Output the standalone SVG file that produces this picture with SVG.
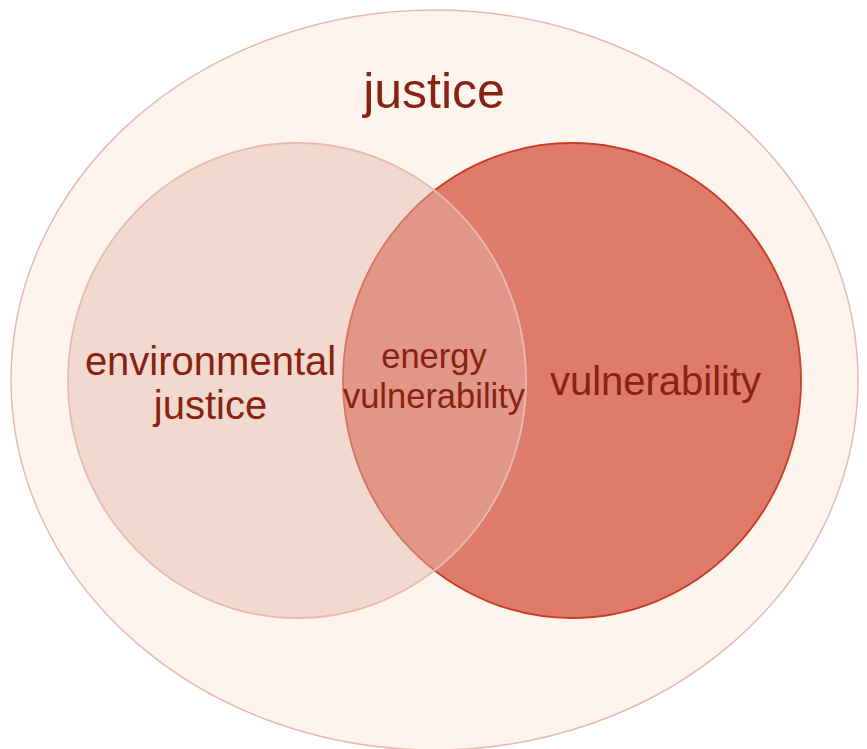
<svg xmlns="http://www.w3.org/2000/svg" width="867" height="749" viewBox="0 0 867 749">
<style>
text{font-family:"Liberation Sans",Arial,sans-serif;fill:#8A2211;text-anchor:middle}
</style>
<rect width="867" height="749" fill="#ffffff"/>
<g id="justice">
<ellipse cx="434.5" cy="380" rx="423.5" ry="370" fill="#FDF4EE" stroke="#E8B9AF" stroke-width="1.5"/>
<text x="434" y="108" font-size="50">justice</text>
</g>
<g id="vulnerability">
<ellipse cx="572" cy="380.5" rx="229" ry="237.5" fill="#DE7B6A" stroke="#C93D26" stroke-width="1.8"/>
</g>
<g id="environmental-justice">
<ellipse cx="297" cy="380.5" rx="229" ry="237.5" fill="#E4B8AB" fill-opacity="0.45" stroke="#E8BBB0" stroke-width="1.8"/>
</g>
<g id="labels">
<text x="210.5" y="375" font-size="40">environmental</text>
<text x="210.5" y="419" font-size="40">justice</text>
<text x="434" y="368" font-size="34.5">energy</text>
<text x="434" y="408" font-size="34.5">vulnerability</text>
<text x="655.5" y="395" font-size="40">vulnerability</text>
</g>
<g id="connectors"/>
</svg>
